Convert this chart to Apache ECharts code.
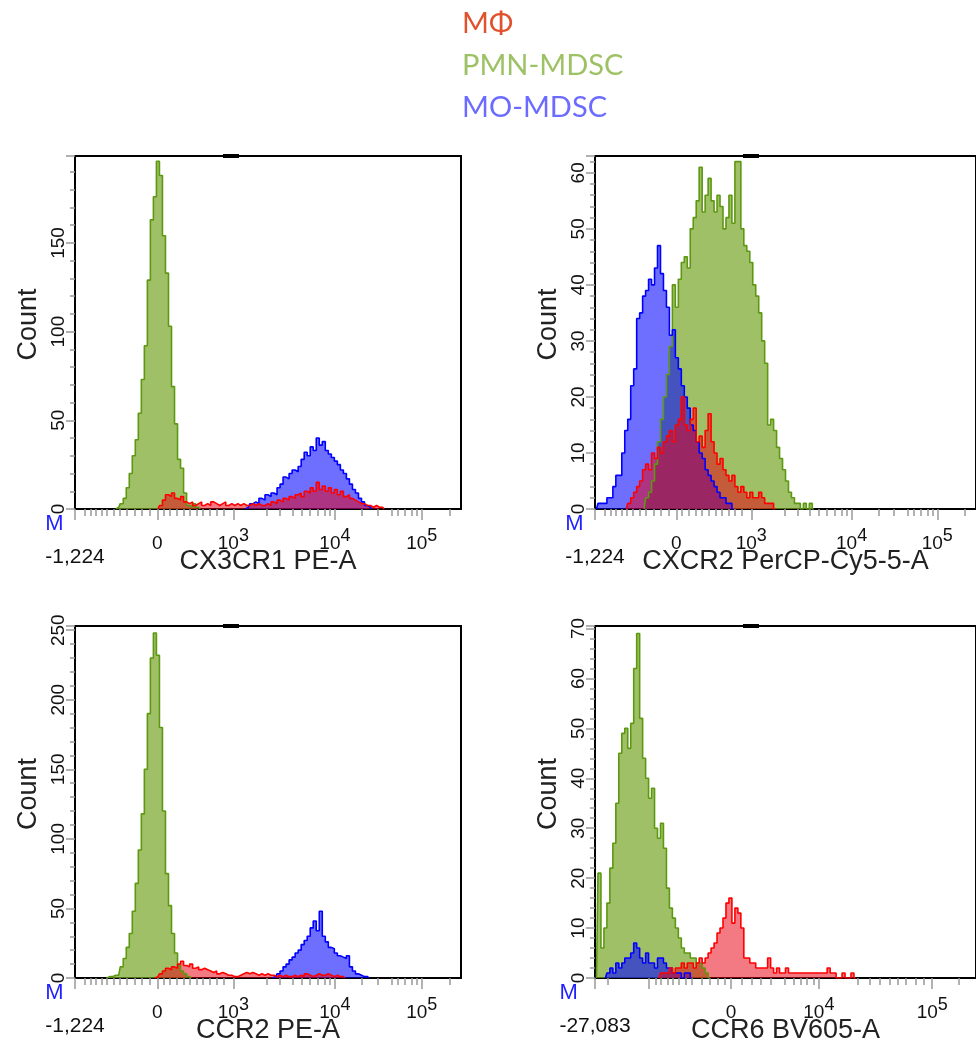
<!DOCTYPE html>
<html lang="en">
<head>
    <meta charset="UTF-8">
    <title>Chemokine receptor histograms</title>
    <style>
        html, body { margin: 0; padding: 0; background: #fff; }
        #container { width: 976px; height: 1048px; }
    </style>
</head>
<body>
<div id="container"></div>
<script src="https://cdn.jsdelivr.net/npm/echarts@6/dist/echarts.min.js"></script>
<script>
    // x axis is the display channel (0..128 across the plot), one bin per channel
    var CH_MAX = 128;

    var panelTitles = ['CX3CR1 PE-A', 'CXCR2 PerCP-Cy5-5-A', 'CCR2 PE-A', 'CCR6 BV605-A'];
    var panelMinLabels = ['-1,224', '-1,224', '-1,224', '-27,083'];
    var countMax = [199, 63, 253, 70.5];
    var countStep = [50, 10, 50, 10];

    // tick positions (channel) and labels
    var decadePosA = [27.3, 52.5, 86.2, 115.0];
    var decadeTextA = ['0', '10^3', '10^4', '10^5'];
    var majorTickA = [0, 27.3, 52.5, 86.2, 115.0];
    var minorTickA = [3.3, 5.2, 7.0, 8.9, 10.5, 12.7, 14.9, 17.2, 19.9, 22.1, 24.9, 29.3, 31.5, 33.9, 35.9,
        38.1, 40.5, 42.5, 44.8, 47.0, 49.4, 63.7, 68.0, 72.3, 75.3, 77.9, 80.6, 82.9, 84.5,
        95.2, 100.5, 105.1, 107.1, 109.4, 111.7, 113.4, 124.3];
    var decadePosB = [45.7, 75.2, 113.3];
    var decadeTextB = ['0', '10^4', '10^5'];
    var majorTickB = [0, 18.2, 45.7, 75.2, 113.3];
    var minorTickB = [4.4, 20.5, 22.1, 24.3, 26.0, 28.2, 30.4, 32.6, 35.9, 38.7, 41.4, 43.7, 49.2, 52.5,
        55.8, 59.1, 63.6, 66.9, 69.1, 71.3, 73.5, 88.4, 92.3, 95.6, 98.9, 101.7, 104.4, 107.8, 110.5, 122.1];

    // counts per channel; each array starts at the given channel
    var cx3cr1PmnStart = 14;
    var cx3cr1Pmn = [1, 3, 6, 12, 20, 30, 39, 54, 73, 92, 129, 163, 176, 196, 188, 154, 133, 103, 69, 48,
        28, 23, 9, 2, 1, 3, 1];
    var cx3cr1MoStart = 57;
    var cx3cr1Mo = [1, 3, 4, 3, 6, 5, 8, 7, 9, 8, 12, 14, 18, 17, 20, 22, 21, 24, 28, 32, 30, 35, 33, 40, 36,
        38, 33, 31, 29, 27, 25, 22, 20, 17, 14, 11, 9, 6, 4, 2, 1];
    var cx3cr1MfStart = 28;
    var cx3cr1Mf = [2, 5, 8, 7, 9, 6, 5, 7, 4, 3, 4, 2, 3, 4, 2, 3, 2, 4, 3, 2, 3, 4, 2, 3, 2, 3, 2, 3, 2, 2,
        3, 2, 3, 2, 2, 3, 2, 4, 3, 5, 4, 6, 5, 7, 6, 8, 9, 7, 10, 9, 12, 10, 15, 11, 13, 10, 12, 9, 11, 8,
        10, 7, 8, 6, 5, 4, 3, 3, 2, 2, 1, 2, 1, 1];

    var cxcr2PmnStart = 17;
    var cxcr2Pmn = [2, 3, 5, 8, 12, 16, 20, 24, 29, 40, 36, 41, 44, 45, 43, 50, 52, 55, 61, 53, 56, 59, 55,
        53, 56, 54, 50, 52, 56, 51, 62, 62, 50, 47, 46, 44, 40, 38, 35, 30, 26, 15, 16, 14, 11, 9, 7, 5, 3,
        2, 1, 1, 0, 1, 0, 1];
    var cxcr2MoStart = 1;
    var cxcr2Mo = [1, 1, 1, 2, 2, 4, 6, 6, 10, 14, 16, 22, 25, 34, 35, 38, 39, 41, 40, 43, 47, 42, 39, 36,
        31, 32, 27, 25, 22, 20, 18, 15, 14, 12, 10, 9, 7, 6, 5, 4, 3, 2, 2, 1, 1];
    var cxcr2MfStart = 11;
    var cxcr2Mf = [1, 2, 3, 4, 5, 7, 8, 7, 10, 9, 11, 10, 12, 13, 14, 12, 15, 16, 20, 15, 14, 16, 18, 12,
        13, 11, 14, 17, 12, 10, 8, 9, 7, 6, 5, 6, 4, 3, 4, 3, 2, 3, 2, 2, 3, 2, 1, 1, 1];

    var ccr2PmnStart = 11;
    var ccr2Pmn = [1, 1, 2, 2, 8, 14, 22, 32, 48, 68, 92, 118, 150, 190, 230, 248, 232, 180, 120, 75, 52,
        32, 18, 9, 5, 3, 1];
    var ccr2MoStart = 66;
    var ccr2Mo = [1, 3, 5, 8, 10, 13, 15, 18, 20, 24, 27, 30, 36, 41, 34, 48, 30, 26, 22, 21, 18, 16, 15,
        14, 16, 8, 5, 3, 2, 1, 1];
    var ccr2MfStart = 27;
    var ccr2Mf = [1, 3, 5, 7, 6, 8, 7, 10, 12, 9, 8, 10, 7, 8, 6, 7, 6, 5, 4, 5, 3, 4, 3, 2, 2, 1, 1, 2, 3,
        4, 3, 4, 3, 2, 3, 2, 3, 2, 2, 1, 2, 1, 2, 1, 1, 2, 1, 2, 1, 3, 2, 1, 2, 3, 2, 2, 3, 2, 1, 2, 1, 1];

    var ccr6PmnStart = 1;
    var ccr6Pmn = [21, 6, 10, 15, 22, 27, 35, 45, 49, 50, 46, 51, 62, 69, 52, 44, 40, 36, 38, 30, 28, 31,
        26, 18, 14, 12, 10, 8, 6, 5, 5, 4, 4, 3, 3, 2, 1];
    var ccr6MoStart = 4;
    var ccr6Mo = [1, 2, 1, 3, 2, 3, 4, 4, 5, 7, 6, 4, 3, 5, 3, 3, 2, 4, 4, 3, 2, 2, 1, 1, 1, 0, 1, 1];
    var ccr6MfStart = 22;
    var ccr6Mf = [1, 1, 1, 2, 1, 2, 2, 3, 2, 3, 3, 2, 3, 4, 3, 4, 5, 6, 7, 9, 10, 12, 15, 16, 11, 14, 13,
        10, 4, 4, 3, 3, 2, 2, 2, 2, 4, 2, 1, 2, 1, 1, 2, 1, 1, 1, 1, 1, 1, 1, 1, 1, 1, 1, 1, 1, 2, 1, 1, 0,
        0, 1, 0, 0, 1];

    var panelPmn = [[cx3cr1PmnStart, cx3cr1Pmn], [cxcr2PmnStart, cxcr2Pmn], [ccr2PmnStart, ccr2Pmn], [ccr6PmnStart, ccr6Pmn]];
    var panelMo = [[cx3cr1MoStart, cx3cr1Mo], [cxcr2MoStart, cxcr2Mo], [ccr2MoStart, ccr2Mo], [ccr6MoStart, ccr6Mo]];
    var panelMf = [[cx3cr1MfStart, cx3cr1Mf], [cxcr2MfStart, cxcr2Mf], [ccr2MfStart, ccr2Mf], [ccr6MfStart, ccr6Mf]];

    var FONT = 'Liberation Sans, Arial, sans-serif';
    var gridPos = [[75, 156, 353], [595, 156, 353], [75, 626, 352], [595, 626, 352]];
    var PLOT_W = 386;

    function toSteps(start, counts) {
        var pts = [[start - 0.5, 0]];
        for (var k = 0; k < counts.length; k++) {
            pts.push([start + k + 0.5, counts[k]]);
        }
        pts.push([start + counts.length + 0.5, 0]);
        return pts;
    }

    function decadeLabel(txt) {
        if (txt.indexOf('^') < 0) return '{b|' + txt + '}';
        var p = txt.split('^');
        return '{b|' + p[0] + '}{s|' + p[1] + '}';
    }

    var grids = [], xAxes = [], yAxes = [], series = [], graphics = [];

    for (var g = 0; g < 4; g++) {
        var isB = g === 3;
        var decPos = isB ? decadePosB : decadePosA;
        var decTxt = isB ? decadeTextB : decadeTextA;
        var minLbl = panelMinLabels[g];

        grids.push({
            left: gridPos[g][0], top: gridPos[g][1], width: PLOT_W, height: gridPos[g][2],
            show: true, borderColor: '#000', borderWidth: 2, backgroundColor: '#fff'
        });

        // major axis: line, decade ticks and labels, title
        xAxes.push({
            type: 'value', gridIndex: g, min: 0, max: CH_MAX, position: 'bottom',
            axisLine: { show: true, lineStyle: { color: '#000', width: 2 } },
            axisTick: { show: true, customValues: isB ? majorTickB : majorTickA, length: 11, lineStyle: { color: '#999', width: 1.5 } },
            axisLabel: {
                customValues: decPos, margin: 18,
                formatter: (function (pos, txt) {
                    return function (v) {
                        var i = pos.indexOf(v);
                        return i >= 0 ? decadeLabel(txt[i]) : '';
                    };
                })(decPos, decTxt),
                rich: {
                    b: { fontFamily: FONT, fontSize: 19, color: '#111', lineHeight: 26, verticalAlign: 'bottom' },
                    s: { fontFamily: FONT, fontSize: 18, color: '#111', lineHeight: 26, verticalAlign: 'bottom', padding: [0, 0, 8, 0] }
                }
            },
            splitLine: { show: false },
            name: panelTitles[g], nameLocation: 'middle', nameGap: 39, nameMoveOverlap: false,
            nameTextStyle: { fontFamily: FONT, fontSize: 27, color: '#222' }
        });
        // minor axis: small ticks plus the min label with the blue M
        xAxes.push({
            type: 'value', gridIndex: g, min: 0, max: CH_MAX, position: 'bottom',
            axisLine: { show: false },
            axisTick: { show: true, customValues: isB ? minorTickB : minorTickA, length: 7, lineStyle: { color: '#999', width: 1.5 } },
            axisLabel: {
                customValues: [0], margin: 3,
                formatter: (function (lbl) {
                    return function () { return '{m|M}\n{v|' + lbl + '}'; };
                })(minLbl),
                rich: {
                    m: { fontFamily: FONT, fontSize: 22, color: '#1f1fff', lineHeight: 23, align: 'left' },
                    v: { fontFamily: FONT, fontSize: 21, color: '#111', lineHeight: 44 }
                }
            },
            splitLine: { show: false }
        });

        yAxes.push({
            type: 'value', gridIndex: g, min: 0, max: countMax[g], interval: countStep[g],
            axisLine: { show: true, lineStyle: { color: '#000', width: 2 } },
            axisTick: { show: true, length: 9, lineStyle: { color: '#999', width: 1.5 } },
            minorTick: { show: true, splitNumber: 5, length: 5, lineStyle: { color: '#999', width: 1.5 } },
            axisLabel: { rotate: 90, margin: 7, fontFamily: FONT, fontSize: 19, color: '#111', showMaxLabel: false },
            splitLine: { show: false },
            name: 'Count', nameLocation: 'middle', nameGap: 33, nameRotate: 90, nameMoveOverlap: false,
            nameTextStyle: { fontFamily: FONT, fontSize: 27, color: '#222', padding: [0, 0, 0, 16] }
        });

        var common = { type: 'line', step: 'middle', symbol: 'none', xAxisIndex: 2 * g, yAxisIndex: g, silent: true };
        series.push(Object.assign({}, common, {
            name: 'PMN-MDSC', data: toSteps(panelPmn[g][0], panelPmn[g][1]),
            lineStyle: { color: '#5c9810', width: 1.6 },
            areaStyle: { color: 'rgba(120,165,40,0.7)', opacity: 1 }
        }));
        series.push(Object.assign({}, common, {
            name: 'MO-MDSC', data: toSteps(panelMo[g][0], panelMo[g][1]),
            lineStyle: { color: '#0000ff', width: 1.6 },
            areaStyle: { color: 'rgba(0,0,255,0.57)', opacity: 1 }
        }));
        series.push(Object.assign({}, common, {
            name: 'MΦ', data: toSteps(panelMf[g][0], panelMf[g][1]),
            lineStyle: { color: '#ff0000', width: 1.6 },
            areaStyle: { color: 'rgba(232,0,16,0.52)', opacity: 1 }
        }));

        // small marker on top border
        graphics.push({
            type: 'rect', shape: { x: gridPos[g][0] + 148, y: gridPos[g][1] - 2, width: 16, height: 4 },
            style: { fill: '#000' }, z: 100
        });
    }

    var legendTexts = ['MΦ', 'PMN-MDSC', 'MO-MDSC'];
    var legendColors = ['#e0522c', '#9dc266', '#6b6bff'];
    for (var i = 0; i < legendTexts.length; i++) {
        graphics.push({
            type: 'text', left: 462, top: 9 + i * 42,
            style: { text: legendTexts[i], fill: legendColors[i], font: '29px Lato, "Open Sans", sans-serif' }
        });
    }

    var dom = document.getElementById('container');
    var myChart = echarts.init(dom);
    var option = {
        animation: false,
        backgroundColor: '#fff',
        grid: grids,
        xAxis: xAxes,
        yAxis: yAxes,
        series: series,
        graphic: graphics
    };
    myChart.setOption(option);
</script>
</body>
</html>
